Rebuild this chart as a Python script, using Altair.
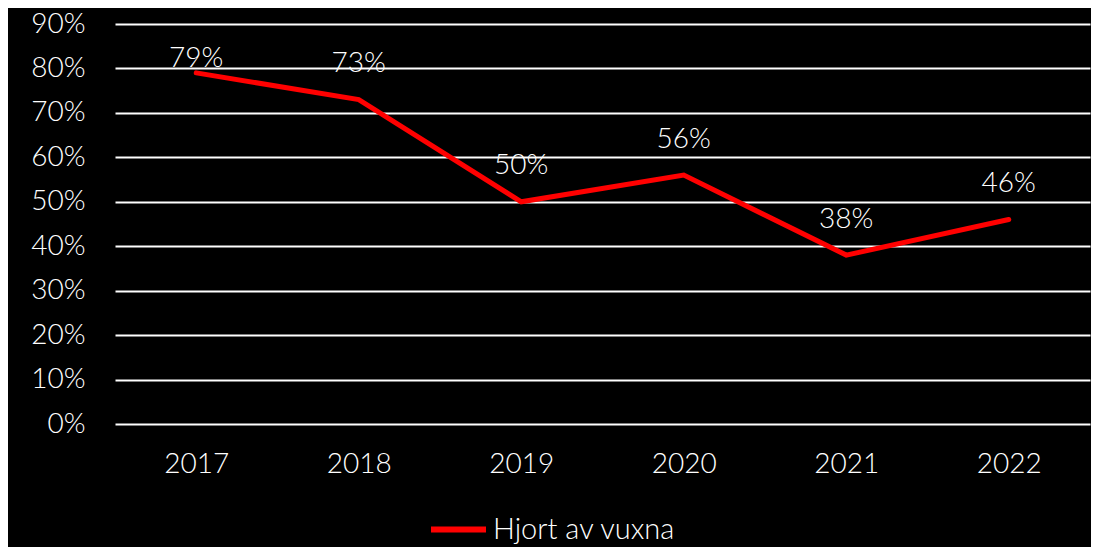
import altair as alt
import pandas as pd

years = ["2017", "2018", "2019", "2020", "2021", "2022"]
values = [79, 73, 50, 56, 38, 46]
series = ["Hjort av vuxna"] * len(years)
y_ticks = [0, 10, 20, 30, 40, 50, 60, 70, 80, 90]

df = pd.DataFrame({"year": years, "value": values, "series": series})

FONT = "Lato"
WEIGHT = 300

base = alt.Chart(df)

line = base.mark_line(strokeWidth=5, strokeCap="round", strokeJoin="miter").encode(
    x=alt.X("year:N", sort=years, title=None,
            scale=alt.Scale(type="point", padding=0.5),
            axis=alt.Axis(labelAngle=0, domain=False, ticks=False, grid=False,
                          labelPadding=26, labelFontSize=28, labelColor="white",
                          labelFont=FONT, labelFontWeight=WEIGHT)),
    y=alt.Y("value:Q", title=None,
            scale=alt.Scale(domain=[0, 90], nice=False),
            axis=alt.Axis(values=y_ticks, labelExpr="datum.value + '%'",
                          domain=False, ticks=False, grid=True, gridColor="white",
                          gridWidth=2, gridOpacity=1, labelPadding=30,
                          labelFontSize=28, labelColor="white", labelFont=FONT,
                          labelFontWeight=WEIGHT)),
    color=alt.Color("series:N", title=None,
                    scale=alt.Scale(range=["#ff0000"]),
                    legend=alt.Legend(orient="none", legendX=313, legendY=475,
                                      symbolType="stroke", symbolSize=3025,
                                      symbolStrokeWidth=6, symbolStrokeColor="#e03030",
                                      labelFontSize=29, labelColor="white",
                                      labelFont=FONT, labelFontWeight=WEIGHT,
                                      labelOffset=4, labelLimit=500)),
)

labels = base.transform_calculate(
    ly="min(datum.value + 8, 82.2)",
    lab="datum.value + '%'",
).mark_text(fontSize=28, color="white", font=FONT, fontWeight=WEIGHT,
            baseline="middle").encode(
    x=alt.X("year:N", sort=years),
    y=alt.Y("ly:Q"),
    text="lab:N",
)

chart = alt.layer(line, labels).properties(
    width=975, height=400,
    autosize=alt.AutoSizeParams(type="none"),
    padding={"left": 107, "top": 16, "right": 1, "bottom": 123},
    background="black",
).configure_view(stroke=None)

chart.save("out.html", embed_options={"renderer": "svg", "actions": False})
